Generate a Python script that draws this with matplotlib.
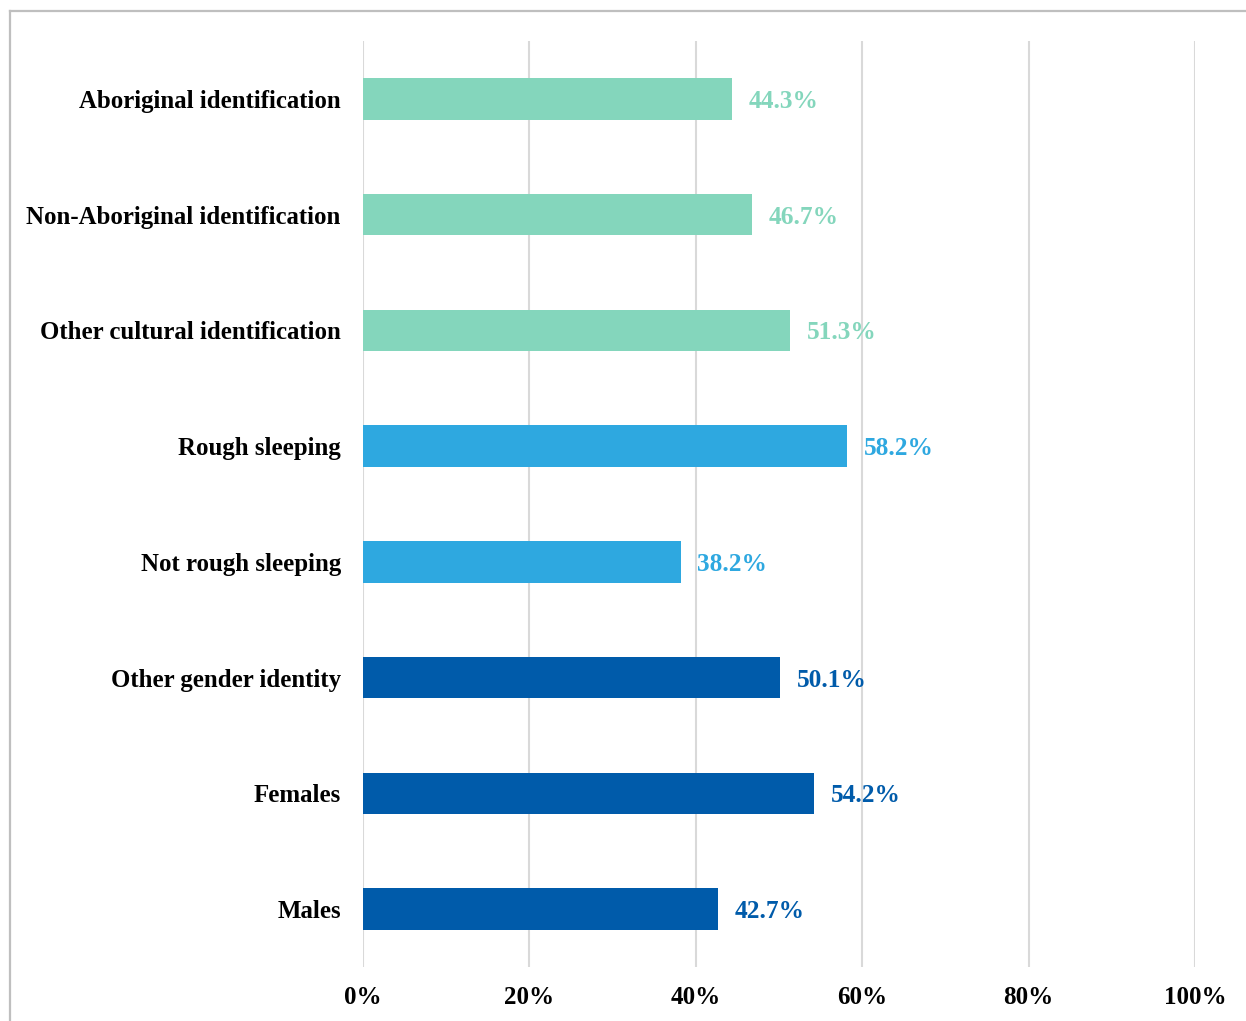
import matplotlib
matplotlib.use("Agg")
import matplotlib.pyplot as plt
from matplotlib.lines import Line2D

categories = ["Aboriginal identification", "Non-Aboriginal identification",
              "Other cultural identification", "Rough sleeping",
              "Not rough sleeping", "Other gender identity", "Females", "Males"]
values = [44.3, 46.7, 51.3, 58.2, 38.2, 50.1, 54.2, 42.7]
groups = ["culture", "culture", "culture", "sleep", "sleep", "gender", "gender", "gender"]
group_colors = {"culture": "#84D6BC", "sleep": "#2EA8E0", "gender": "#005BAA"}
xticks = [0, 20, 40, 60, 80, 100]
xtick_labels = ["0%", "20%", "40%", "60%", "80%", "100%"]

plt.rcParams['font.family'] = ['Liberation Serif', 'DejaVu Serif']

W, H = 1246, 1021
fig = plt.figure(figsize=(W / 100, H / 100), dpi=100)
ax = fig.add_axes([363 / W, 1 - 967 / H, (1195 - 363) / W, (967 - 41) / H])

ypos = list(range(len(categories)))
colors = [group_colors[g] for g in groups]
ax.barh(ypos, values, height=0.36, color=colors, zorder=3)
for y, v, c in zip(ypos, values, colors):
    ax.text(v + 2.0, y, f"{v:.1f}%", va="center_baseline", ha="left", color=c,
            fontsize=18.3, fontweight="bold", zorder=4)

ax.set_xlim(0, 100)
ax.set_ylim(len(categories) - 0.5, -0.5)
ax.set_yticks(ypos)
ax.set_yticklabels(categories, fontsize=17.9, fontweight="bold")
ax.set_xticks(xticks)
ax.set_xticklabels(xtick_labels, fontsize=18, fontweight="bold")
ax.tick_params(axis="both", length=0)
ax.tick_params(axis="y", pad=16)
ax.tick_params(axis="x", pad=13.5)
ax.grid(axis="x", color="#D9D9D9", linewidth=1.5, zorder=0)
for s in ax.spines.values():
    s.set_visible(False)

# outer frame (top and left visible)
fig.add_artist(Line2D([10 / W, 10 / W], [0, 1 - 11 / H], transform=fig.transFigure,
                      color="#BFBFBF", linewidth=1.6))
fig.add_artist(Line2D([10 / W, 1], [1 - 11 / H, 1 - 11 / H], transform=fig.transFigure,
                      color="#BFBFBF", linewidth=1.6))

fig.savefig("out.png", dpi=100)
